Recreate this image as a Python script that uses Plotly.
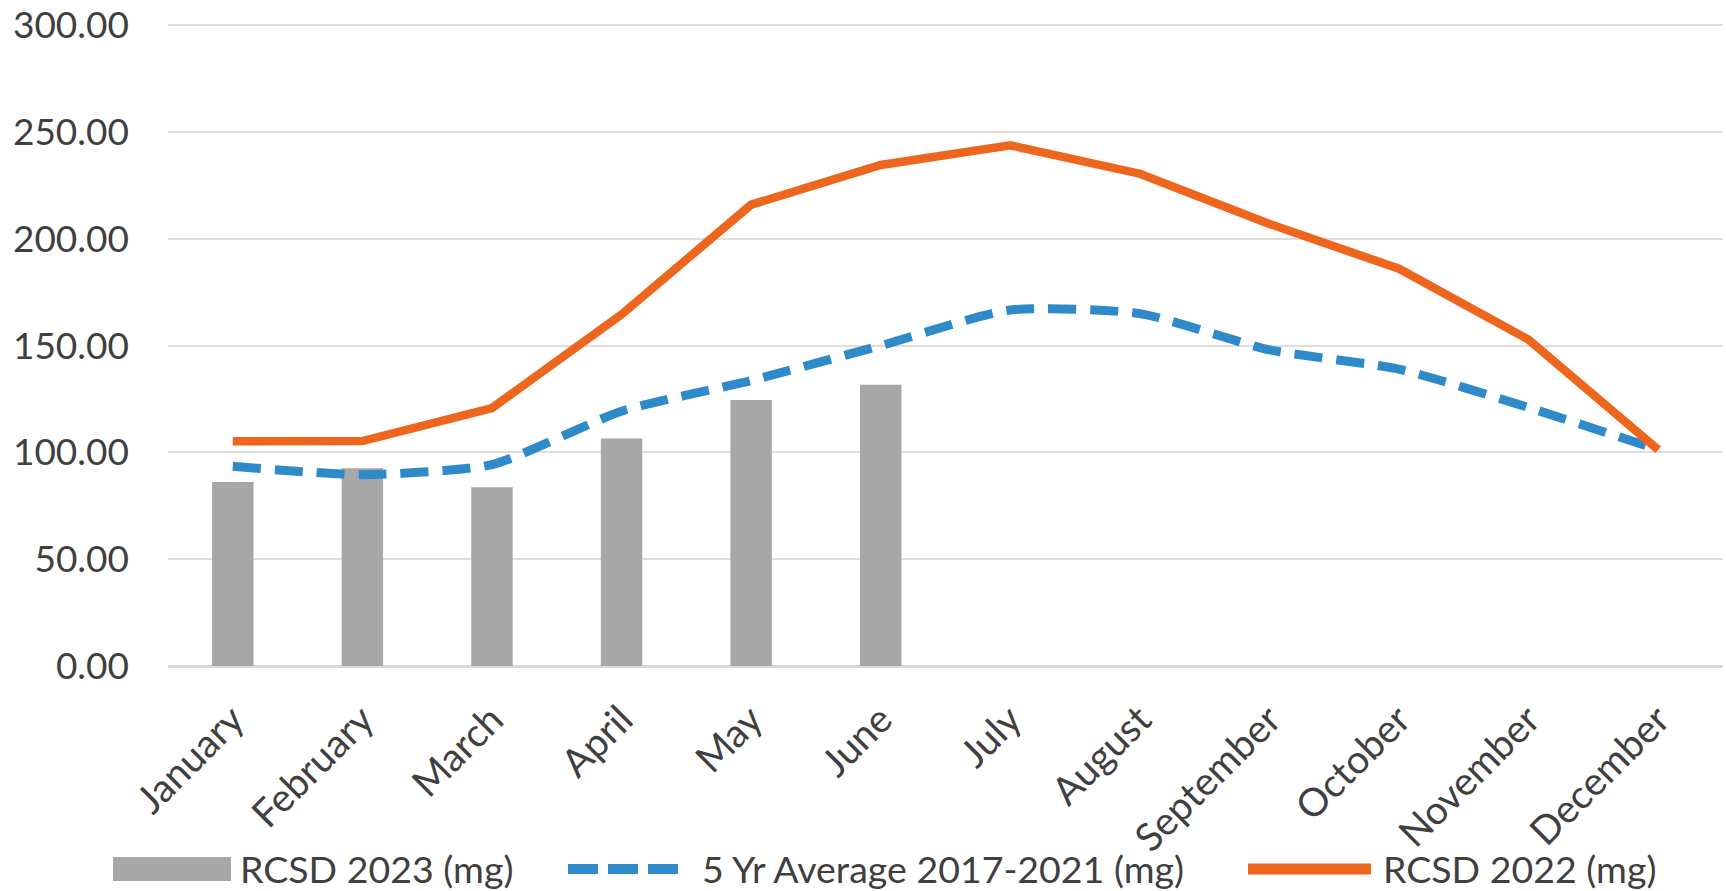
import plotly.graph_objects as go

months = ["January", "February", "March", "April", "May", "June",
          "July", "August", "September", "October", "November", "December"]

rcsd_2023 = [86.2, 92.6, 83.7, 106.5, 124.5, 131.7]
avg_2017_2021 = [93.5, 89.6, 94.3, 119.3, 133.7, 150.0,
                 166.7, 165.0, 148.0, 139.0, 121.0, 101.3]
rcsd_2022 = [105.2, 105.3, 120.8, 164.6, 216.0, 234.6,
             243.8, 230.5, 207.0, 186.0, 152.8, 101.3]

series_names = ["RCSD 2023 (mg)", "5 Yr Average 2017-2021 (mg)", "RCSD 2022 (mg)"]
series_colors = ["#a8a7a7", "#2f8aca", "#ee661e"]

y_ticks = [0, 50, 100, 150, 200, 250, 300]

FONT = "Lato"
TEXT = "#3f3f3f"

W, H = 1726, 891
ML, MR, MT, MB = 168, 3, 24, 225
PW, PH = W - ML - MR, H - MT - MB


def px_x(px):
    """Pixel column -> paper x."""
    return (px - ML) / PW


def px_y(py):
    """Pixel row -> paper y."""
    return (H - MB - py) / PH


fig = go.Figure()

fig.add_trace(go.Bar(
    x=months[:len(rcsd_2023)], y=rcsd_2023, name=series_names[0],
    marker=dict(color=series_colors[0], line=dict(width=0)), width=0.32,
))
fig.add_trace(go.Scatter(
    x=months, y=avg_2017_2021, name=series_names[1],
    mode="lines", line=dict(color=series_colors[1], width=9, dash="28px,14px",
                            shape="spline", smoothing=0.6),
))
fig.add_trace(go.Scatter(
    x=months, y=rcsd_2022, name=series_names[2],
    mode="lines", line=dict(color=series_colors[2], width=8.5),
))

# Legend row drawn below the month labels
leg_y = 869
shapes = [
    dict(type="rect", xref="paper", yref="paper",
         x0=px_x(113), x1=px_x(231), y0=px_y(leg_y + 12), y1=px_y(leg_y - 12),
         fillcolor=series_colors[0], line=dict(width=0)),
    dict(type="line", xref="paper", yref="paper",
         x0=px_x(568), x1=px_x(678), y0=px_y(leg_y), y1=px_y(leg_y),
         line=dict(color=series_colors[1], width=10, dash="30px,10px")),
    dict(type="line", xref="paper", yref="paper",
         x0=px_x(1248), x1=px_x(1371), y0=px_y(leg_y), y1=px_y(leg_y),
         line=dict(color=series_colors[2], width=11)),
]
annotations = [
    dict(xref="paper", yref="paper", x=px_x(tx), y=px_y(leg_y),
         xanchor="left", yanchor="middle", showarrow=False, text=name,
         font=dict(size=37.5, color=TEXT, family=FONT))
    for tx, name in zip([238, 700, 1381], series_names)
]

fig.update_layout(
    width=W, height=H,
    margin=dict(l=ML, r=MR, t=MT, b=MB, autoexpand=False),
    paper_bgcolor="white", plot_bgcolor="white",
    font=dict(family=FONT, color=TEXT, size=37),
    showlegend=False,
    shapes=shapes,
    annotations=annotations,
    xaxis=dict(
        type="category", categoryorder="array", categoryarray=months,
        range=[-0.5, len(months) - 0.5],
        tickangle=-45, showgrid=False, showline=False, zeroline=False,
        ticks="", ticklabelstandoff=22, tickfont=dict(size=39, color=TEXT),
    ),
    yaxis=dict(
        range=[0, 300.6], tickvals=y_ticks,
        ticktext=[f"{v:.2f}" for v in y_ticks],
        showgrid=True, gridcolor="#e3dcdc", gridwidth=2,
        zeroline=True, zerolinecolor="#dcd8d8", zerolinewidth=3,
        showline=False, ticks="", ticklabelstandoff=38,
        tickfont=dict(size=37, color=TEXT),
    ),
)

fig.write_html("out.html")
